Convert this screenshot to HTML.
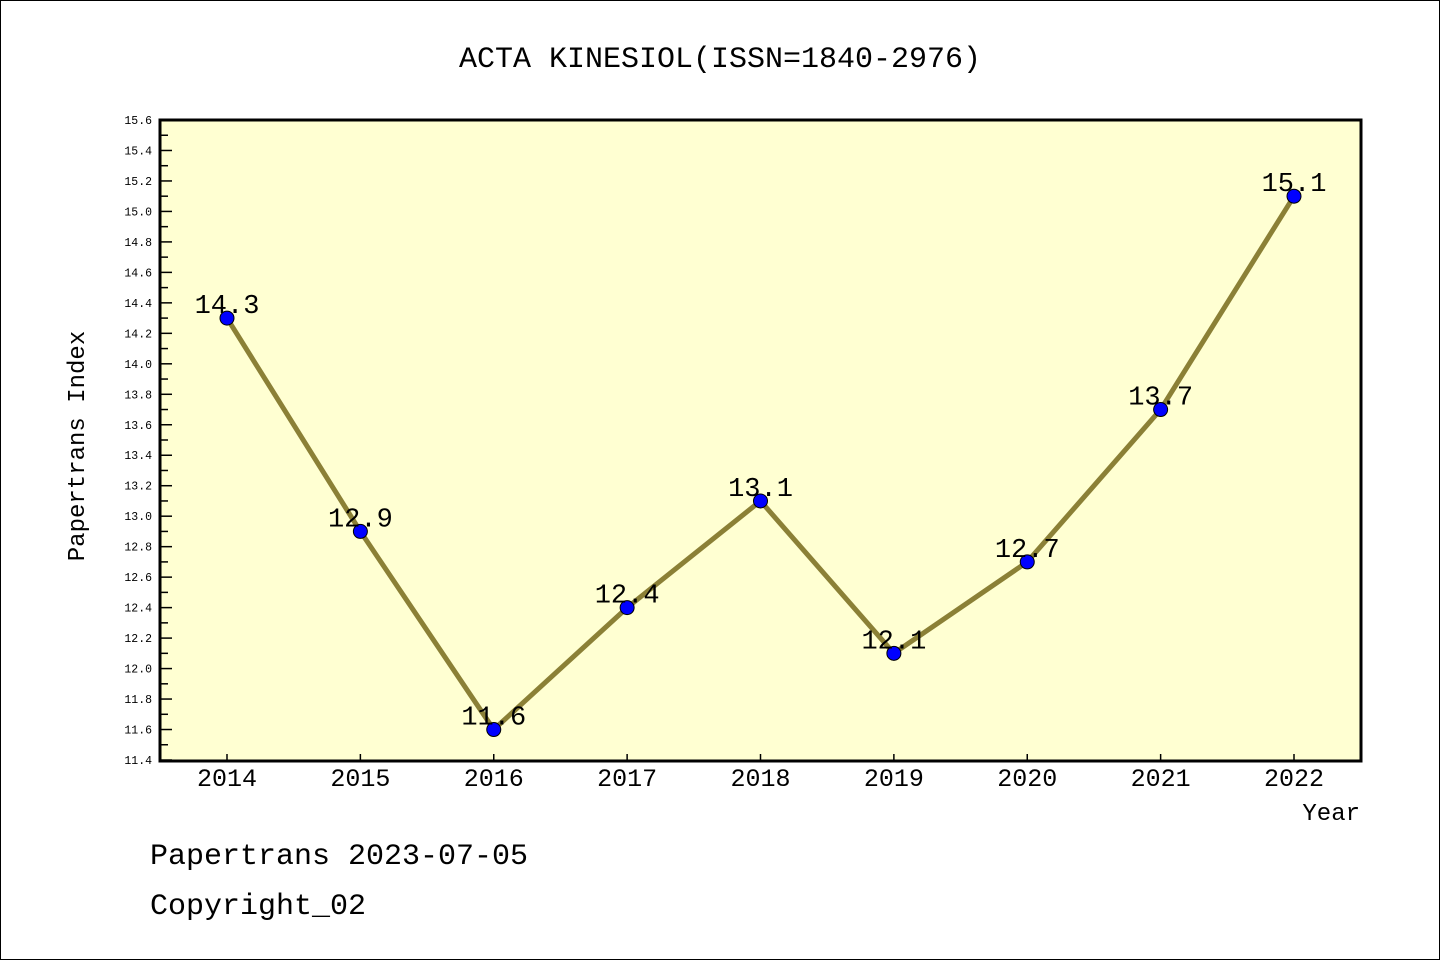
<!DOCTYPE html>
<html><head><meta charset="utf-8"><style>
body{margin:0;background:#fff}
svg{display:block;font-family:"Liberation Mono","DejaVu Sans Mono",monospace}
</style></head><body>
<svg width="1440" height="960" viewBox="0 0 1440 960">
<rect x="0.5" y="0.5" width="1439" height="959" fill="#fff" stroke="#000"/>
<text x="720" y="67" font-size="30" text-anchor="middle">ACTA KINESIOL(ISSN=1840-2976)</text>
<rect x="160" y="120" width="1201" height="641" fill="#ffffd2"/>
<g id="yaxis"></g>
<g id="xaxis"></g>
<g id="series"></g>
<rect x="160" y="120" width="1201" height="641" fill="none" stroke="#000" stroke-width="3"/>
<text x="84" y="446" font-size="24" text-anchor="middle" transform="rotate(-90 84 446)">Papertrans Index</text>
<text x="1360" y="820" font-size="24" text-anchor="end">Year</text>
<text x="150" y="864" font-size="30">Papertrans 2023-07-05</text>
<text x="150" y="914" font-size="30">Copyright_02</text>
</svg>
<script>
const years=["2014","2015","2016","2017","2018","2019","2020","2021","2022"];
const values=[14.3,12.9,11.6,12.4,13.1,12.1,12.7,13.7,15.1];
const labels=["14.3","12.9","11.6","12.4","13.1","12.1","12.7","13.7","15.1"];
const yMin=11.4,yMax=15.6;
const NS="http://www.w3.org/2000/svg";
function X(i){return 227+i*(1294-227)/(years.length-1);}
function Y(v){return 760-(v-yMin)/(yMax-yMin)*640;}
function mk(t,a,p){const e=document.createElementNS(NS,t);for(const k in a)e.setAttribute(k,a[k]);p.appendChild(e);return e;}
const ya=document.getElementById('yaxis'),xa=document.getElementById('xaxis'),se=document.getElementById('series');
for(let k=0;k<=42;k++){const v=yMin+k*0.1,y=Y(v),maj=k%2===0;
 const l=mk('line',{x1:160,x2:160+(maj?12:8),y1:y,y2:y,stroke:'#000','stroke-width':1.5},ya);
 
 if(maj){const t=mk('text',{x:152,y:y+4,'font-size':11.5,'text-anchor':'end'},ya);t.textContent=v.toFixed(1);
 }}
years.forEach((yr,i)=>{const x=X(i);
 const l=mk('line',{x1:x,x2:x,y1:760,y2:754,stroke:'#000','stroke-width':1.5},xa);
 
 const t=mk('text',{x:x,y:786,'font-size':25,'text-anchor':'middle'},xa);t.textContent=yr;
 });
const pl=mk('polyline',{points:values.map((v,i)=>X(i)+','+Y(v)).join(' '),fill:'none',stroke:'#8b8036','stroke-width':5},se);

values.forEach((v,i)=>{const c=mk('circle',{cx:X(i),cy:Y(v),r:7,fill:'#0000ff',stroke:'#000','stroke-width':1},se);
 
 const t=mk('text',{x:X(i),y:Y(v)-5,'font-size':27,'text-anchor':'middle'},se);t.textContent=labels[i];
 });
</script>
</body></html>
